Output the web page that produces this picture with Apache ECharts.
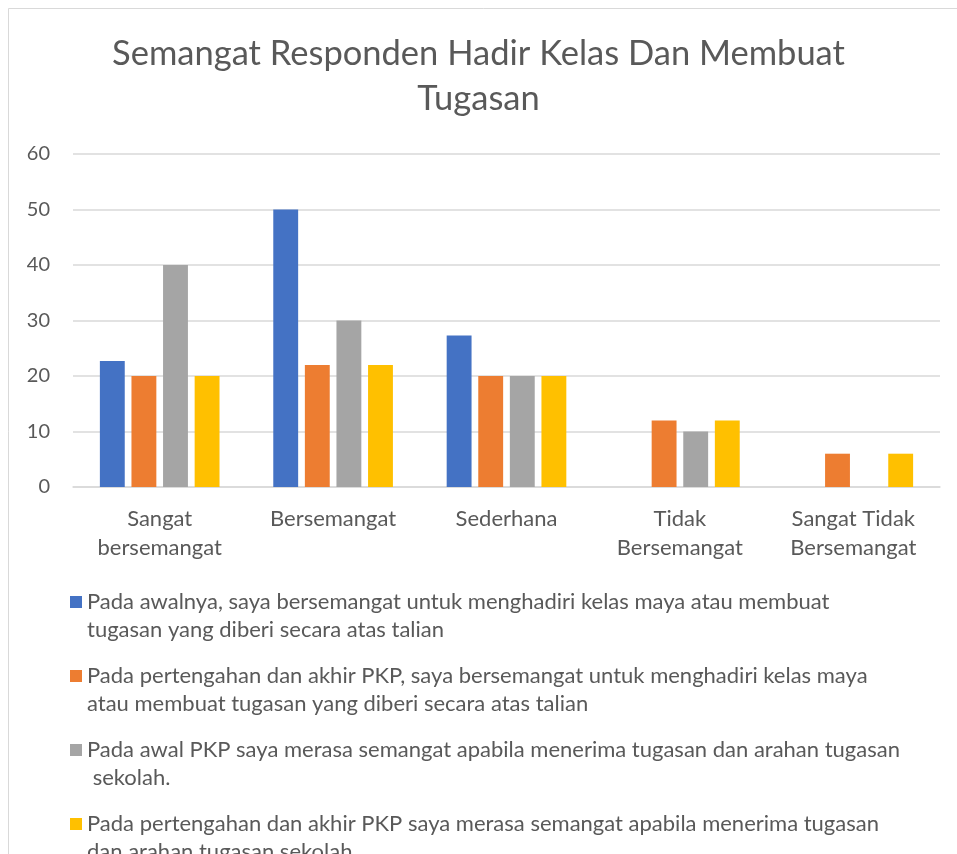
<!DOCTYPE html>
<html>
<head>
<meta charset="utf-8">
<script src="https://cdn.jsdelivr.net/npm/echarts@6/dist/echarts.min.js"></script>
<style>
html, body { margin: 0; padding: 0; background: #fff; }
#chart { width: 957px; height: 854px; }
</style>
</head>
<body>
<div id="chart"></div>
<script>
// Categories (x axis)
const categories = ['Sangat\nbersemangat', 'Bersemangat', 'Sederhana', 'Tidak\nBersemangat', 'Sangat Tidak\nBersemangat']

// Series names (legend)
const seriesNames = [
  'Pada awalnya, saya bersemangat untuk menghadiri kelas maya atau membuat tugasan yang diberi secara atas talian',
  'Pada pertengahan dan akhir PKP, saya bersemangat untuk menghadiri kelas maya atau membuat tugasan yang diberi secara atas talian',
  'Pada awal PKP saya merasa semangat apabila menerima tugasan dan arahan tugasan sekolah.',
  'Pada pertengahan dan akhir PKP saya merasa semangat apabila menerima tugasan dan arahan tugasan sekolah.'
]

// Values
const awalKelas = [22.7, 50, 27.3, 0, 0]
const akhirKelas = [20, 22, 20, 12, 6]
const awalTugasan = [40, 30, 20, 10, 0]
const akhirTugasan = [20, 22, 20, 12, 6]

const seriesValues = [awalKelas, akhirKelas, awalTugasan, akhirTugasan]
const colors = ['#4472C4', '#ED7D31', '#A5A5A5', '#FFC000']

const yMin = 0
const yMax = 60
const yStep = 10

const chart = echarts.init(document.getElementById('chart'))

const textColor = '#595959'
const font = 'Lato, "Open Sans", sans-serif'

chart.setOption({
  animation: false,
  backgroundColor: '#fff',
  title: {
    text: 'Semangat Responden Hadir Kelas Dan Membuat\nTugasan',
    left: 'center',
    top: 26,
    textStyle: {
      color: textColor,
      fontFamily: font,
      fontWeight: 'normal',
      fontSize: 34.5,
      lineHeight: 45
    }
  },
  graphic: [{
    // outer chart frame
    type: 'rect',
    shape: { x: 8.5, y: 8.5, width: 1000, height: 1000 },
    style: { fill: 'none', stroke: '#d9d9d9', lineWidth: 1 },
    silent: true
  }],
  grid: { left: 73, right: 17, top: 154, bottom: 367 },
  legend: {
    orient: 'vertical',
    left: 70,
    top: 588,
    height: 500,
    padding: 0,
    itemGap: 18,
    itemWidth: 12,
    itemHeight: 56,
    // square aligned with first text line
    icon: 'path://M0,0M0,56M0,8h12v12h-12z',
    textStyle: {
      color: textColor,
      fontFamily: font,
      fontSize: 22,
      lineHeight: 28,
      width: 815,
      overflow: 'break'
    },
    data: seriesNames
  },
  xAxis: {
    type: 'category',
    data: categories,
    axisLine: { lineStyle: { color: '#d9d9d9', width: 1.5 } },
    axisTick: { show: false },
    axisLabel: {
      color: textColor,
      fontFamily: font,
      fontSize: 22,
      lineHeight: 29,
      margin: 17,
      interval: 0
    }
  },
  yAxis: {
    type: 'value',
    min: yMin,
    max: yMax,
    interval: yStep,
    axisLine: { show: false },
    axisTick: { show: false },
    splitLine: { lineStyle: { color: '#d9d9d9', width: 1.5 } },
    axisLabel: {
      color: textColor,
      fontFamily: font,
      fontSize: 20,
      margin: 23
    }
  },
  series: seriesNames.map((name, i) => ({
    name: name,
    type: 'bar',
    data: seriesValues[i],
    barGap: '27%',
    barCategoryGap: '31%',
    itemStyle: { color: colors[i] }
  }))
})
</script>
</body>
</html>
